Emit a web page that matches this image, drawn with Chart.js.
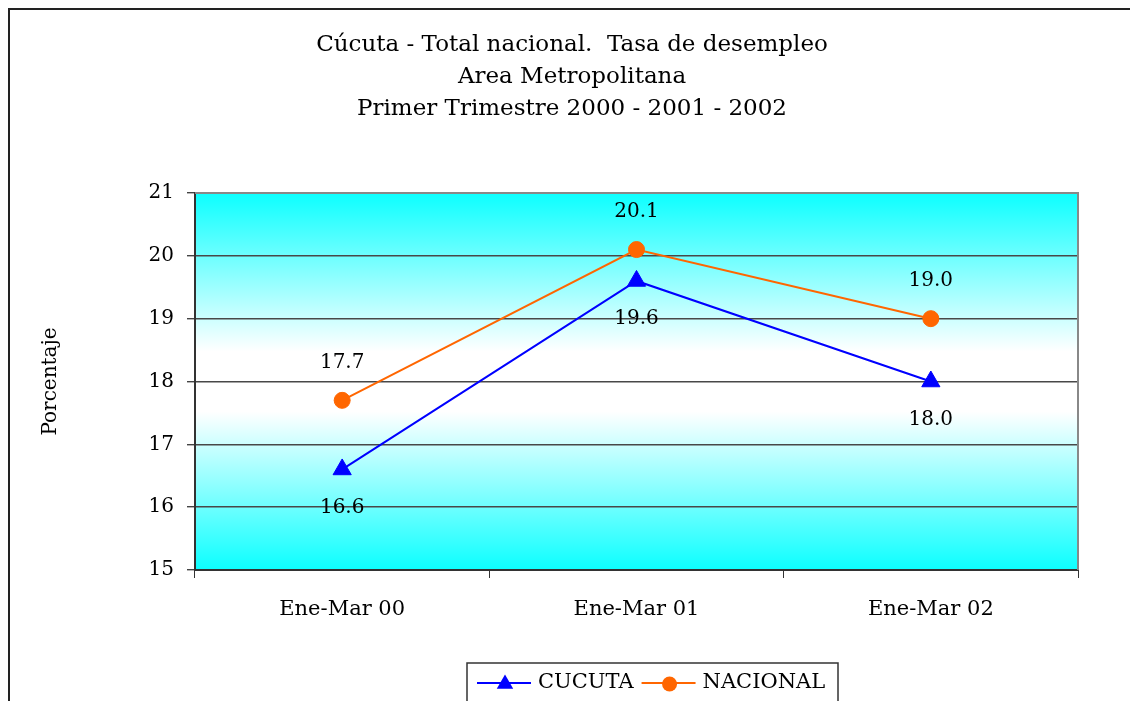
<!DOCTYPE html>
<html>
<head>
<meta charset="utf-8">
<script src="https://cdn.jsdelivr.net/npm/chart.js@4/dist/chart.umd.min.js"></script>
<style>
    html, body { margin: 0; padding: 0; background: #fff; }
    canvas { display: block; }
</style>
</head>
<body>
<canvas id="line-chart" width="1130" height="701"></canvas>
<script>
const categories = ['Ene-Mar 00', 'Ene-Mar 01', 'Ene-Mar 02'];
const cucuta = [16.6, 19.6, 18.0];
const nacional = [17.7, 20.1, 19.0];
const yTicks = [15, 16, 17, 18, 19, 20, 21];
const titleLines = [
    'Cúcuta - Total nacional.  Tasa de desempleo',
    'Area Metropolitana',
    'Primer Trimestre 2000 - 2001 - 2002'
];

const serif = "'DejaVu Serif', serif";

// fondo degradado cian - blanco - cian del area de trazado
const plotBackground = {
    id: 'plotBackground',
    beforeDraw(chart) {
        const { ctx, chartArea: a } = chart;
        const g = ctx.createLinearGradient(0, a.top, 0, a.bottom);
        g.addColorStop(0, '#0cffff');
        g.addColorStop(0.42, '#ffffff');
        g.addColorStop(0.58, '#ffffff');
        g.addColorStop(1, '#0cffff');
        ctx.save();
        ctx.fillStyle = g;
        ctx.fillRect(a.left, a.top, a.right - a.left, a.bottom - a.top);
        ctx.restore();
    }
};

// marco exterior + borde superior/derecho del area
const frame = {
    id: 'frame',
    afterDraw(chart) {
        const { ctx, chartArea: a } = chart;
        ctx.save();
        ctx.strokeStyle = '#222';
        ctx.lineWidth = 2;
        ctx.beginPath();
        ctx.moveTo(9, chart.height + 5);
        ctx.lineTo(9, 9);
        ctx.lineTo(chart.width + 5, 9);
        ctx.stroke();

        ctx.strokeStyle = '#888';
        ctx.lineWidth = 2;
        ctx.beginPath();
        ctx.moveTo(a.left, a.top);
        ctx.lineTo(a.right, a.top);
        ctx.lineTo(a.right, a.bottom);
        ctx.stroke();
        ctx.restore();
    }
};

// etiquetas de valores (arriba o abajo del punto)
const valueLabels = {
    id: 'valueLabels',
    afterDatasetsDraw(chart) {
        const ctx = chart.ctx;
        ctx.save();
        ctx.font = '20px ' + serif;
        ctx.fillStyle = '#000';
        ctx.textAlign = 'center';
        ctx.textBaseline = 'middle';
        chart.data.datasets.forEach((ds, i) => {
            const meta = chart.getDatasetMeta(i);
            meta.data.forEach((pt, j) => {
                const dy = ds.labelPos === 'above' ? -38 : 38;
                ctx.fillText(ds.data[j].toFixed(1), pt.x, pt.y + dy);
            });
        });
        ctx.restore();
    }
};

function drawMarker(ctx, style, r, x, y) {
    ctx.beginPath();
    if (style === 'triangle') {
        ctx.moveTo(x, y - r);
        ctx.lineTo(x + r * 0.866, y + r / 2);
        ctx.lineTo(x - r * 0.866, y + r / 2);
        ctx.closePath();
    } else {
        ctx.arc(x, y, r, 0, Math.PI * 2);
    }
    ctx.fill();
}

// leyenda con recuadro, linea y marcador
const boxLegend = {
    id: 'boxLegend',
    afterDraw(chart) {
        const ctx = chart.ctx;
        ctx.save();
        ctx.strokeStyle = '#333';
        ctx.lineWidth = 1.5;
        ctx.strokeRect(467, 663, 371, 60);
        ctx.font = '21px ' + serif;
        ctx.textBaseline = 'middle';
        const y = 683;
        let x = 477;
        chart.data.datasets.forEach(ds => {
            ctx.strokeStyle = ds.borderColor;
            ctx.fillStyle = ds.backgroundColor;
            ctx.lineWidth = 2;
            ctx.beginPath();
            ctx.moveTo(x, y);
            ctx.lineTo(x + 54, y);
            ctx.stroke();
            drawMarker(ctx, ds.pointStyle, ds.pointStyle === 'triangle' ? 9.5 : 7.5, x + 28, y + 1);
            ctx.fillStyle = '#000';
            ctx.fillText(ds.label, x + 61, y);
            x += 61 + ctx.measureText(ds.label).width + 8;
        });
        ctx.restore();
    }
};

new Chart(document.getElementById('line-chart'), {
    type: 'line',
    data: {
        labels: categories,
        datasets: [
            {
                label: 'CUCUTA',
                data: cucuta,
                borderColor: '#0000ff',
                backgroundColor: '#0000ff',
                borderWidth: 2,
                pointStyle: 'triangle',
                pointRadius: 10.5,
                pointBorderWidth: 1,
                tension: 0,
                labelPos: 'below'
            },
            {
                label: 'NACIONAL',
                data: nacional,
                borderColor: '#ff6600',
                backgroundColor: '#ff6600',
                borderWidth: 2,
                pointStyle: 'circle',
                pointRadius: 8,
                pointBorderWidth: 1,
                tension: 0,
                labelPos: 'above'
            }
        ]
    },
    options: {
        responsive: false,
        animation: false,
        layout: { padding: { left: 66, right: 52, top: 12, bottom: 51 } },
        scales: {
            x: {
                offset: true,
                grid: { offset: true, drawOnChartArea: false, tickLength: 8, color: '#333' },
                border: { color: '#333', width: 2 },
                ticks: { font: { family: serif, size: 21 }, color: '#000', padding: 19 },
                afterFit: s => { s.height = 80; }
            },
            y: {
                min: 15,
                max: 21,
                afterBuildTicks: s => { s.ticks = yTicks.map(v => ({ value: v })); },
                ticks: { font: { family: serif, size: 20 }, color: '#000', padding: 13 },
                grid: { color: '#484848', lineWidth: 1.4, tickLength: 8, tickColor: '#444' },
                border: { color: '#333', width: 2 },
                title: {
                    display: true,
                    text: 'Porcentaje',
                    font: { family: serif, size: 20 },
                    color: '#000',
                    padding: { top: -27, bottom: 0 }
                },
                afterFit: s => { s.width = 129; }
            }
        },
        plugins: {
            legend: { display: false },
            tooltip: { enabled: false },
            title: {
                display: true,
                text: titleLines,
                color: '#000',
                font: { family: serif, size: 23, weight: 'normal', lineHeight: 1.4 },
                padding: { top: 17, bottom: 67.4 }
            }
        }
    },
    plugins: [plotBackground, valueLabels, frame, boxLegend]
});
</script>
</body>
</html>
